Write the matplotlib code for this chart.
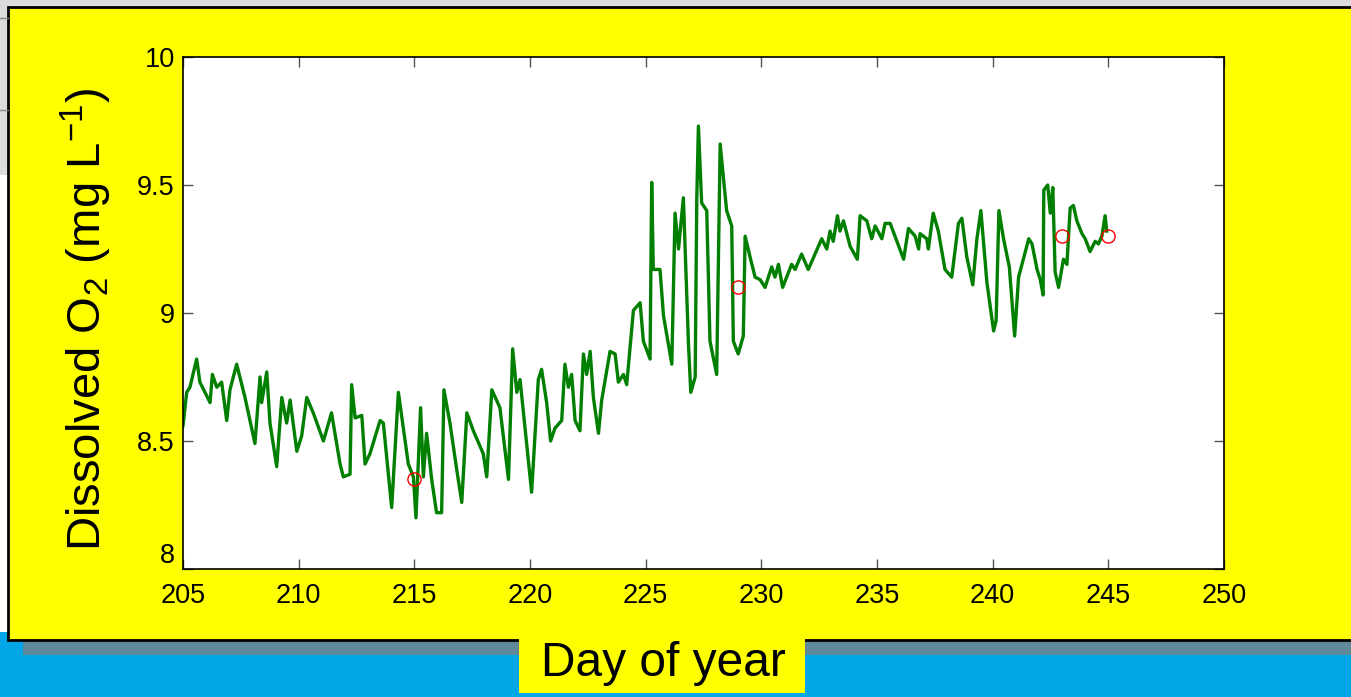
import numpy as np
import matplotlib
matplotlib.use('Agg')
import matplotlib.pyplot as plt
from matplotlib.patches import Rectangle
from matplotlib.lines import Line2D

plt.rcParams['font.family'] = ['Liberation Sans', 'DejaVu Sans']
plt.rcParams['mathtext.fontset'] = 'custom'
plt.rcParams['mathtext.rm'] = 'Liberation Sans'
plt.rcParams['mathtext.it'] = 'Liberation Sans:italic'

# dissolved O2 record (day of year, mg/L)
day = [205.00, 205.16, 205.30, 205.59, 205.73, 206.17, 206.27, 206.46, 206.67, 206.89,
       207.03, 207.32, 207.68, 208.11, 208.33, 208.40, 208.62, 208.76, 209.05, 209.27,
       209.48, 209.63, 209.92, 210.13, 210.35, 210.63, 211.07, 211.42, 211.79, 211.93,
       212.22, 212.29, 212.44, 212.73, 212.87, 213.08, 213.52, 213.66, 214.02, 214.31,
       214.74, 214.96, 215.07, 215.27, 215.39, 215.53, 215.75, 215.96, 216.18, 216.28,
       216.54, 216.83, 217.05, 217.27, 217.55, 217.98, 218.13, 218.35, 218.70, 219.07,
       219.25, 219.43, 219.57, 220.07, 220.36, 220.50, 220.72, 220.89, 221.08, 221.37,
       221.51, 221.66, 221.80, 221.95, 222.16, 222.31, 222.45, 222.60, 222.74, 222.96,
       223.10, 223.46, 223.68, 223.82, 224.04, 224.18, 224.47, 224.76, 224.90, 225.19,
       225.26, 225.33, 225.62, 225.77, 226.13, 226.27, 226.42, 226.63, 226.85, 226.95,
       227.14, 227.21, 227.28, 227.42, 227.64, 227.78, 228.07, 228.22, 228.36, 228.50,
       228.72, 228.79, 229.00, 229.22, 229.30, 229.51, 229.73, 229.95, 230.16, 230.45,
       230.59, 230.74, 230.92, 231.31, 231.46, 231.74, 232.03, 232.32, 232.61, 232.83,
       232.97, 233.11, 233.29, 233.40, 233.55, 233.84, 234.15, 234.27, 234.56, 234.77,
       234.92, 235.21, 235.35, 235.57, 235.86, 236.15, 236.36, 236.65, 236.80, 236.86,
       237.15, 237.22, 237.43, 237.65, 237.94, 238.23, 238.52, 238.67, 238.88, 239.14,
       239.32, 239.49, 239.75, 240.04, 240.15, 240.27, 240.47, 240.72, 240.95, 241.12,
       241.56, 241.70, 241.92, 242.06, 242.18, 242.21, 242.38, 242.49, 242.60, 242.70,
       242.85, 243.06, 243.21, 243.35, 243.49, 243.64, 243.86, 244.00, 244.21, 244.43,
       244.57, 244.72, 244.86, 244.93]
o2 = [8.56, 8.69, 8.71, 8.82, 8.73, 8.65, 8.76, 8.71, 8.73, 8.58,
      8.70, 8.80, 8.67, 8.49, 8.75, 8.65, 8.77, 8.57, 8.40, 8.67,
      8.57, 8.66, 8.46, 8.52, 8.67, 8.61, 8.50, 8.61, 8.41, 8.36,
      8.37, 8.72, 8.59, 8.60, 8.41, 8.45, 8.58, 8.57, 8.24, 8.69,
      8.41, 8.36, 8.20, 8.63, 8.36, 8.53, 8.35, 8.22, 8.22, 8.70,
      8.57, 8.39, 8.26, 8.61, 8.54, 8.45, 8.36, 8.70, 8.63, 8.35,
      8.86, 8.69, 8.74, 8.30, 8.74, 8.78, 8.65, 8.50, 8.55, 8.58,
      8.80, 8.71, 8.76, 8.58, 8.54, 8.84, 8.76, 8.85, 8.67, 8.53,
      8.66, 8.85, 8.84, 8.73, 8.76, 8.72, 9.01, 9.04, 8.89, 8.82,
      9.51, 9.17, 9.17, 8.99, 8.80, 9.39, 9.25, 9.45, 8.88, 8.69,
      8.75, 9.45, 9.73, 9.43, 9.40, 8.89, 8.76, 9.66, 9.53, 9.40,
      9.34, 8.89, 8.84, 8.91, 9.30, 9.22, 9.14, 9.13, 9.10, 9.18,
      9.14, 9.19, 9.10, 9.19, 9.17, 9.23, 9.17, 9.23, 9.29, 9.25,
      9.32, 9.28, 9.38, 9.32, 9.36, 9.26, 9.21, 9.38, 9.36, 9.29,
      9.34, 9.29, 9.35, 9.35, 9.28, 9.21, 9.33, 9.30, 9.25, 9.31,
      9.29, 9.25, 9.39, 9.32, 9.17, 9.14, 9.35, 9.37, 9.22, 9.11,
      9.29, 9.40, 9.12, 8.93, 8.97, 9.40, 9.29, 9.18, 8.91, 9.14,
      9.29, 9.27, 9.17, 9.13, 9.07, 9.48, 9.50, 9.39, 9.49, 9.16,
      9.10, 9.21, 9.19, 9.41, 9.42, 9.36, 9.31, 9.29, 9.24, 9.28,
      9.27, 9.30, 9.38, 9.32]

# discrete samples (red circles)
sample_day = [215, 229, 243, 245]
sample_o2 = [8.35, 9.10, 9.30, 9.30]

xticks = [205, 210, 215, 220, 225, 230, 235, 240, 245, 250]
yticks = [8, 8.5, 9, 9.5, 10]

W, H = 1351, 697
fig = plt.figure(figsize=(W / 100, H / 100), dpi=100, facecolor='#00a6e6')


def box(x0, y0, x1, y1, **kw):
    # rectangle given in pixels from the top-left corner
    r = Rectangle((x0 / W, 1 - y1 / H), (x1 - x0) / W, (y1 - y0) / H,
                  transform=fig.transFigure, zorder=-5, **kw)
    fig.add_artist(r)
    return r


# slide background around the figure panel
box(0, 0, W, 632, fc='white', ec='none')
box(0, 0, W, 175, fc='#dcdcdc', ec='none')
for yy in (18, 110):
    fig.add_artist(Line2D([0, 8 / W], [1 - yy / H, 1 - yy / H], color='#8a8a8a',
                          lw=1, transform=fig.transFigure, zorder=-4))
box(23, 640, W, 655, fc='#5f8a9a', ec='none')
box(8, 7, W + 10, 640, fc='#ffff00', ec='black', lw=2)
box(519, 637, 805, 693, fc='#ffff00', ec='none')

ax = fig.add_axes([183 / W, 1 - 569 / H, 1041 / W, 512 / H])
ax.set_facecolor('white')
ax.plot(day, o2, color='#007f00', lw=2.4)
ax.plot(sample_day, sample_o2, 'o', mfc='none', mec='red', ms=9.5, mew=1)

ax.set_xlim(205, 250)
ax.set_ylim(8, 10)
ax.set_xticks(xticks)
ax.set_yticks(yticks)
ax.set_xticklabels([str(t) for t in xticks])
ax.set_yticklabels(['%g' % t for t in yticks])
ax.tick_params(direction='in', length=7, width=1, color='#555555', labelsize=19.5,
               top=True, right=True, pad=6)
ax.tick_params(axis='x', pad=10)
# keep the lowest y label just clear of the first x label
ax.get_yticklabels()[0].set_verticalalignment('bottom')
for s in ax.spines.values():
    s.set_linewidth(1.2)
    s.set_color('black')

ax.set_ylabel('Dissolved O$_2$ (mg L$^{-1}$)', fontsize=34)
ax.yaxis.set_label_coords(-0.066, 0.487)

fig.text(663 / W, 1 - 676 / H, 'Day of year', fontsize=34.5, ha='center', va='baseline')

fig.savefig('out.png', dpi=100, facecolor=fig.get_facecolor())
